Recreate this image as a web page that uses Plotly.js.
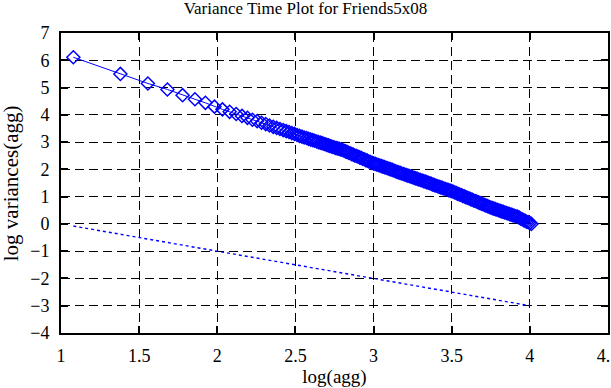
<!DOCTYPE html>
<html>
<head>
<meta charset="utf-8">
<script src="https://cdn.plot.ly/plotly-3.0.1.min.js"></script>
<style>html,body{margin:0;padding:0;background:#fff;}#chart{width:611px;height:388px;}</style>
</head>
<body>
<div id="chart"></div>
<script>
// log(agg) values of the variance-time points
var logAgg = [
  1.079, 1.380, 1.556, 1.681, 1.778, 1.857, 1.924, 1.982,
  2.033, 2.079, 2.121, 2.158, 2.193, 2.225, 2.255, 2.283, 2.310, 2.334, 2.358, 2.380,
  2.401, 2.422, 2.441, 2.459, 2.477, 2.494, 2.511, 2.526, 2.542, 2.556, 2.571, 2.584,
  2.598, 2.611, 2.623, 2.636, 2.647, 2.659, 2.670, 2.681,
  2.69, 2.70, 2.71, 2.72, 2.73, 2.74, 2.75, 2.76, 2.77, 2.78, 2.79, 2.80,
  2.81, 2.82, 2.83, 2.84, 2.85, 2.86, 2.87, 2.88, 2.89, 2.90,
  2.91, 2.92, 2.93, 2.94, 2.95, 2.96, 2.97, 2.98, 2.99, 3.00,
  3.01, 3.02, 3.03, 3.04, 3.05, 3.06, 3.07, 3.08, 3.09, 3.10,
  3.11, 3.12, 3.13, 3.14, 3.15, 3.16, 3.17, 3.18, 3.19, 3.20,
  3.21, 3.22, 3.23, 3.24, 3.25, 3.26, 3.27, 3.28, 3.29, 3.30,
  3.31, 3.32, 3.33, 3.34, 3.35, 3.36, 3.37, 3.38, 3.39, 3.40,
  3.41, 3.42, 3.43, 3.44, 3.45, 3.46, 3.47, 3.48, 3.49, 3.50,
  3.51, 3.52, 3.53, 3.54, 3.55, 3.56, 3.57, 3.58, 3.59, 3.60,
  3.61, 3.62, 3.63, 3.64, 3.65, 3.66, 3.67, 3.68, 3.69, 3.70,
  3.71, 3.72, 3.73, 3.74, 3.75, 3.76, 3.77, 3.78, 3.79, 3.80,
  3.81, 3.82, 3.83, 3.84, 3.85, 3.86, 3.87, 3.88, 3.89, 3.90,
  3.91, 3.92, 3.93, 3.94, 3.95, 3.96, 3.97, 3.98, 3.99, 4.00, 4.01
];
// log variances(agg) values
var logVar = [
  6.11, 5.50, 5.15, 4.93, 4.72, 4.57, 4.44, 4.30,
  4.20, 4.11, 4.03, 3.96, 3.89, 3.82, 3.77, 3.71, 3.66, 3.61, 3.56, 3.52,
  3.48, 3.44, 3.40, 3.37, 3.33, 3.30, 3.26, 3.23, 3.20, 3.17, 3.15, 3.12,
  3.09, 3.07, 3.05, 3.02, 3.00, 2.98, 2.96, 2.94,
  2.92, 2.90, 2.88, 2.86, 2.84, 2.82, 2.80, 2.78, 2.77, 2.75, 2.73, 2.71,
  2.69, 2.66, 2.64, 2.61, 2.59, 2.56, 2.54, 2.51, 2.49, 2.47,
  2.44, 2.42, 2.39, 2.37, 2.34, 2.32, 2.29, 2.27, 2.24, 2.22,
  2.20, 2.18, 2.16, 2.14, 2.12, 2.10, 2.08, 2.06, 2.04, 2.02,
  2.00, 1.98, 1.96, 1.93, 1.91, 1.89, 1.87, 1.85, 1.83, 1.81,
  1.79, 1.77, 1.75, 1.73, 1.71, 1.69, 1.67, 1.65, 1.63, 1.61,
  1.59, 1.57, 1.55, 1.53, 1.51, 1.49, 1.47, 1.44, 1.42, 1.40,
  1.38, 1.36, 1.34, 1.32, 1.30, 1.28, 1.26, 1.24, 1.22, 1.20,
  1.18, 1.15, 1.13, 1.10, 1.08, 1.06, 1.03, 1.01, 0.98, 0.96,
  0.94, 0.91, 0.89, 0.86, 0.84, 0.82, 0.79, 0.77, 0.74, 0.72,
  0.70, 0.67, 0.65, 0.62, 0.60, 0.58, 0.56, 0.54, 0.52, 0.50,
  0.48, 0.46, 0.44, 0.42, 0.40, 0.38, 0.36, 0.34, 0.32, 0.30,
  0.28, 0.27, 0.24, 0.20, 0.17, 0.14, 0.11, 0.08, 0.06, 0.03, 0.00
];
// slope -1 reference line end points
var refX = [1.079, 4.0];
var refY = [-0.079, -3.0];

var titleText = "Variance Time Plot for Friends5x08";
var xTitle = "log(agg)";
var yTitle = "log variances(agg)";
var xTicks = [1, 1.5, 2, 2.5, 3, 3.5, 4, 4.5];
var xTickText = ["1", "1.5", "2", "2.5", "3", "3.5", "4", "4.5"];
var yTicks = [-4, -3, -2, -1, 0, 1, 2, 3, 4, 5, 6, 7];

var FONT = "'Liberation Serif', 'DejaVu Serif', serif";
var traces = [
  {
    x: logAgg, y: logVar, type: "scatter", mode: "lines+markers",
    line: {color: "#0000ff", width: 1},
    marker: {symbol: "diamond-open", size: 10, color: "#0000ff", line: {width: 1.5, color: "#0000ff"}},
    showlegend: false, hoverinfo: "x+y"
  },
  {
    x: refX, y: refY, type: "scatter", mode: "lines",
    line: {color: "#0000ff", width: 1.4, dash: "3px,3px"},
    showlegend: false
  }
];
var axisCommon = {
  showline: true, linecolor: "#000", linewidth: 2, mirror: "ticks",
  ticks: "inside", ticklen: 7, tickwidth: 2, tickcolor: "#000",
  showgrid: true, gridcolor: "#000", gridwidth: 1, griddash: "9px,5px",
  zeroline: false, ticklabeloverflow: "allow",
  tickfont: {family: FONT, size: 18, color: "#000"}
};
var layout = {
  width: 611, height: 388,
  margin: {l: 61, r: 3, t: 33, b: 55, pad: 0},
  paper_bgcolor: "#fff", plot_bgcolor: "#fff",
  font: {family: FONT, size: 18, color: "#000"},
  title: {text: titleText, font: {family: FONT, size: 17, color: "#000"},
          x: 0.5, xref: "container", y: 0.995, yref: "container", yanchor: "top"},
  xaxis: Object.assign({}, axisCommon, {
    range: [1, 4.5], tickvals: xTicks, ticktext: xTickText, ticklabelstandoff: 5,
    title: {text: xTitle, font: {family: FONT, size: 19, color: "#000"}, standoff: 4}
  }),
  yaxis: Object.assign({}, axisCommon, {
    range: [-4, 7], tickvals: yTicks, ticklabelstandoff: 6
  }),
  annotations: [{
    text: yTitle, xref: "paper", yref: "paper", x: -0.091, y: 0.5,
    xanchor: "center", yanchor: "middle", textangle: -90, showarrow: false,
    font: {family: FONT, size: 21, color: "#000"}
  }]
};
Plotly.newPlot("chart", traces, layout, {displayModeBar: false, staticPlot: true});
</script>
</body>
</html>
